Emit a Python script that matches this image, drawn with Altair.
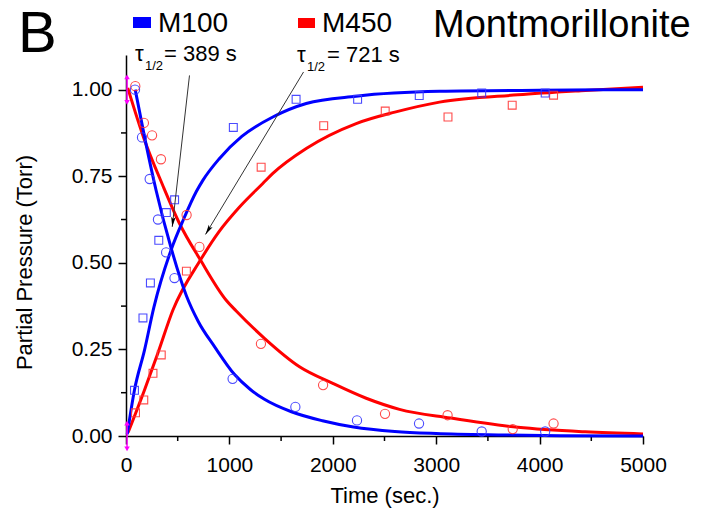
import altair as alt
import pandas as pd

FONT = "Liberation Sans"

# ---------------- data ----------------
# measured points, M100 (blue)
m100_des_t = [87, 155, 229, 309, 388, 469, 1031, 1638, 2234, 2834, 3440, 4054]
m100_des_p = [1.00, 0.862, 0.742, 0.625, 0.530, 0.456, 0.165, 0.084, 0.045, 0.036, 0.013, 0.013]
m100_ads_t = [82, 164, 236, 317, 390, 470, 1038, 1645, 2240, 2836, 3440, 4054]
m100_ads_p = [0.132, 0.341, 0.442, 0.565, 0.645, 0.682, 0.891, 0.972, 0.972, 0.983, 0.990, 0.990]
# measured points, M450 (red)
m450_des_t = [90, 173, 252, 338, 586, 710, 1305, 1906, 2505, 3110, 3740, 4135]
m450_des_p = [1.010, 0.904, 0.868, 0.799, 0.638, 0.546, 0.266, 0.147, 0.064, 0.060, 0.020, 0.036]
m450_ads_t = [92, 172, 261, 341, 584, 1307, 1912, 2507, 3114, 3735, 4135]
m450_ads_p = [0.067, 0.104, 0.181, 0.234, 0.476, 0.776, 0.896, 0.938, 0.921, 0.955, 0.984]

# fitted curves
fit100_des_t = [89, 187, 292, 439, 584, 700, 856, 1048, 1200, 1339, 1600, 1900, 2200, 2600, 3000, 3600, 4200, 5000]
fit100_des_p = [1.0, 0.852, 0.708, 0.540, 0.405, 0.330, 0.258, 0.178, 0.135, 0.106, 0.070, 0.044, 0.026, 0.013, 0.007, 0.003, 0.001, 0.0]
fit100_ads_t = [12, 82, 179, 270, 437, 560, 679, 743, 900, 1120, 1420, 1743, 2226, 3032, 4000, 5000]
fit100_ads_p = [0.005, 0.133, 0.248, 0.372, 0.538, 0.628, 0.705, 0.738, 0.800, 0.865, 0.921, 0.960, 0.981, 0.995, 0.998, 1.0]
fit450_des_t = [17, 170, 355, 520, 720, 969, 1066, 1339, 1678, 2000, 2323, 2645, 3138, 3790, 4441, 5000]
fit450_des_p = [1.005, 0.862, 0.724, 0.612, 0.508, 0.392, 0.361, 0.282, 0.200, 0.152, 0.109, 0.077, 0.052, 0.025, 0.012, 0.006]
fit450_ads_t = [20, 179, 308, 453, 720, 900, 1098, 1323, 1420, 1743, 2226, 2600, 3032, 3790, 4400, 5000]
fit450_ads_p = [0.010, 0.133, 0.239, 0.363, 0.508, 0.590, 0.661, 0.729, 0.758, 0.830, 0.902, 0.935, 0.964, 0.985, 0.997, 1.007]

# start values with arrow error bars (magenta)
start_t = [10, 10]
start_p = [1.0, 0.0]
start_err = [0.037, 0.037]

x_major = [0, 1000, 2000, 3000, 4000, 5000]
x_minor = [500, 1500, 2500, 3500, 4500]
y_major = [0.0, 0.25, 0.5, 0.75, 1.0]
y_minor = [0.125, 0.375, 0.625, 0.875]

BLUE = "#0000FF"
RED = "#FF0000"
BLUE_PT = "#3838FF"
RED_PT = "#FF3838"
PINK = "#FF00FF"

W, H = 517, 381
OX, OY = 126, 55  # plot origin in page pixels

xs = alt.Scale(domain=[0, 5000], nice=False, zero=False)
ys = alt.Scale(domain=[0, 1.1], nice=False, zero=False)

axis_common = dict(
    grid=False, domainColor="black", domainWidth=1.5, tickColor="black", tickWidth=1.5,
    tickSize=8, labelFont=FONT, labelFontSize=21, labelColor="black", labelFlush=False,
    labelOverlap=False, labelLimit=500, titleLimit=1000,
    titleFont=FONT, titleFontSize=22, titleFontWeight="normal", titleColor="black",
)

x_axis = alt.Axis(values=x_major, format="d", title="Time (sec.)", labelPadding=10,
                  titleBaseline="middle", titleY=59, **axis_common)
y_axis = alt.Axis(values=y_major, format=".2f", title="Partial Pressure (Torr)", labelPadding=6,
                  titleAngle=270, titleBaseline="middle", titleAlign="center",
                  titleX=24 - OX, titleY=262 - OY, **axis_common)


def X(field="t"):
    return alt.X(f"{field}:Q", scale=xs, axis=x_axis, title="Time (sec.)")


def Y(field="p"):
    return alt.Y(f"{field}:Q", scale=ys, axis=y_axis, title="Partial Pressure (Torr)")


def XD(v):
    return alt.X(datum=v, scale=xs, axis=x_axis, title="Time (sec.)")


def YD(v):
    return alt.Y(datum=v, scale=ys, axis=y_axis, title="Partial Pressure (Torr)")


layers = []

# minor ticks
layers.append(alt.Chart(pd.DataFrame({"t": x_minor})).mark_rule(color="black", strokeWidth=1.5).encode(
    x=X(), y=alt.value(H), y2=alt.value(H + 5)))
layers.append(alt.Chart(pd.DataFrame({"p": y_minor})).mark_rule(color="black", strokeWidth=1.5).encode(
    y=Y(), x=alt.value(0), x2=alt.value(-5)))

# fitted curves
for tt, pp, col in [(fit450_des_t, fit450_des_p, RED), (fit450_ads_t, fit450_ads_p, RED),
                    (fit100_des_t, fit100_des_p, BLUE), (fit100_ads_t, fit100_ads_p, BLUE)]:
    df = pd.DataFrame({"t": tt, "p": pp})
    layers.append(alt.Chart(df).mark_line(color=col, strokeWidth=3, interpolate="monotone").encode(x=X(), y=Y()))

# measured points
for tt, pp, col, shape, size in [
    (m450_des_t, m450_des_p, RED_PT, "circle", 85),
    (m450_ads_t, m450_ads_p, RED_PT, "square", 62),
    (m100_des_t, m100_des_p, BLUE_PT, "circle", 85),
    (m100_ads_t, m100_ads_p, BLUE_PT, "square", 62),
]:
    df = pd.DataFrame({"t": tt, "p": pp})
    layers.append(alt.Chart(df).mark_point(filled=False, color=col, shape=shape, size=size,
                                           strokeWidth=1.1, opacity=0.9).encode(x=X(), y=Y()))

# magenta arrow error bars at t = 0
sdf = pd.DataFrame({"t": start_t, "p": start_p, "e": start_err})
sdf["lo"] = sdf["p"] - sdf["e"]
sdf["hi"] = sdf["p"] + sdf["e"]
layers.append(alt.Chart(sdf).mark_rule(color=PINK, strokeWidth=1.5).encode(x=X(), y=Y("lo"), y2="hi:Q"))
layers.append(alt.Chart(sdf).mark_point(shape="triangle-up", filled=True, color=PINK, size=30, opacity=1).encode(x=X(), y=Y("hi")))
layers.append(alt.Chart(sdf).mark_point(shape="triangle-down", filled=True, color=PINK, size=30, opacity=1).encode(x=X(), y=Y("lo")))

# half-life arrows
one = pd.DataFrame({"a": [0]})
HEAD = "M0,-1L-0.45,1L0,0.6L0.45,1Z"
for (x0, y0, x1, y1, hx, hy, ang) in [(614, 1.041, 447, 0.604, 453, 0.618, 186.4),
                                      (1717, 1.051, 769, 0.582, 794, 0.594, 211.2)]:
    layers.append(alt.Chart(one).mark_rule(color="#333333", strokeWidth=1).encode(
        x=XD(x0), y=YD(y0), x2=alt.X2(datum=x1), y2=alt.Y2(datum=y1)))
    layers.append(alt.Chart(one).mark_point(shape=HEAD, filled=True, color="black", size=100,
                                            angle=ang, opacity=1).encode(x=XD(hx), y=YD(hy)))


def label(text, x, y, size, align="left", baseline="alphabetic"):
    return alt.Chart(pd.DataFrame({"s": [text]})).mark_text(
        align=align, baseline=baseline, fontSize=size, font=FONT, color="black").encode(
        text="s:N", x=alt.value(x - OX), y=alt.value(y - OY))


def swatch(x0, x1, y0, y1, col):
    return alt.Chart(one).mark_rect(color=col).encode(
        x=alt.value(x0 - OX), x2=alt.value(x1 - OX), y=alt.value(y0 - OY), y2=alt.value(y1 - OY))


layers += [
    label("B", 18, 52, 58),
    swatch(133, 151, 17, 28, BLUE),
    label("M100", 158, 32, 28),
    swatch(298, 315, 18, 28, RED),
    label("M450", 322, 32, 28),
    label("Montmorillonite", 433, 37, 38),
    label("τ", 135, 61, 22),
    label("1/2", 145, 70, 13),
    label("= 389 s", 164, 61, 22),
    label("τ", 297, 62, 22),
    label("1/2", 307, 71, 13),
    label("= 721 s", 327, 62, 22),
]

chart = alt.layer(*layers).properties(
    width=W, height=H,
    autosize=alt.AutoSizeParams(type="none"),
    padding={"left": OX, "top": OY, "right": 704 - OX - W, "bottom": 512 - OY - H},
).configure_view(stroke=None)

chart.save("out.html", embed_options={"renderer": "svg", "actions": False})
